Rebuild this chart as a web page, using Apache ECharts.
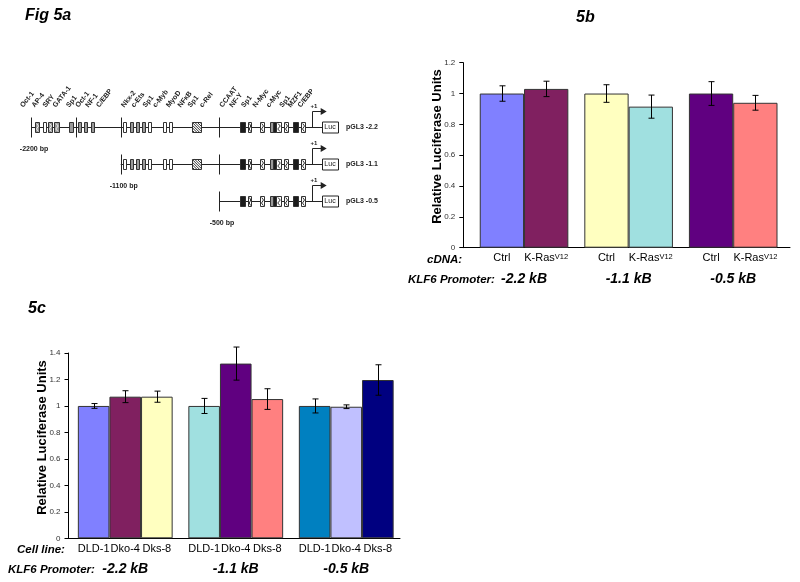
<!DOCTYPE html>
<html><head><meta charset="utf-8">
<script src="https://cdn.jsdelivr.net/npm/echarts@6/dist/echarts.min.js"></script>
<style>html,body{margin:0;padding:0;background:#fff}#c{width:800px;height:582px}</style>
</head><body><div id="c"></div>
<script>
// ===== Fig 5b data =====
const promoters5b = ['-2.2 kB', '-1.1 kB', '-0.5 kB'];
const cdnaNames = ['Ctrl', 'K-Ras'];
const ctrlValues = [1.00, 1.00, 1.00];
const ctrlErrors = [0.05, 0.057, 0.077];
const krasValues = [1.03, 0.915, 0.94];
const krasErrors = [0.05, 0.075, 0.048];

// ===== Fig 5c data =====
const promoters5c = ['-2.2 kB', '-1.1 kB', '-0.5 kB'];
const cellLines = ['DLD-1', 'Dko-4', 'Dks-8'];
const dld1Values = [1.00, 1.00, 1.00];
const dld1Errors = [0.018, 0.057, 0.053];
const dko4Values = [1.07, 1.32, 0.994];
const dko4Errors = [0.045, 0.125, 0.014];
const dks8Values = [1.07, 1.052, 1.196];
const dks8Errors = [0.042, 0.078, 0.115];

// ===== Fig 5a schematic (schematic units along promoter) =====
const constructNames = ['pGL3 -2.2', 'pGL3 -1.1', 'pGL3 -0.5'];
const constructStarts = [0, 89.7, 188];
const startLabels = ['-2200 bp', '-1100 bp', '-500 bp'];
const boundaryTicks = [0, 45, 89.7, 188];
const siteStarts = [4, 12.3, 16.7, 23, 38, 46.7, 53.3, 59.7, 92.3, 99, 104.7, 110.7, 117.3, 132.3, 137.7, 160.7, 209, 217.3, 229, 238.5, 241.5, 244.5, 253.3, 262.3, 270];
const siteEnds   = [8, 15.7, 20.7, 28, 41.7, 50, 56.7, 63, 95.7, 102.3, 108, 114, 120.7, 135.7, 141, 170, 214, 220.7, 233.3, 241.5, 244.5, 249, 257.3, 267.3, 274];
const siteKinds  = ['gs','w','gs','gs','g','g','g','g','w','g','g','g','w','w','w','h','b','ws','ws','g','b','ws','ws','b','ws'];
const tfNames = ['Oct-1','AP-4','SRY','GATA-1','Sp1','Oct-1','NF-1','C/EBP','Nkx-2','c-Ets','Sp1','c-Myb','MyoD','NFκB','Sp1','c-Rel','CCAAT','NF-Y','Sp1','N-Myc','c-Myc','Sp1','MZF1','C/EBP'];
const tfPositions = [-6.5, 5.1, 16.1, 26.1, 39.5, 48.8, 58.8, 69.5, 94.5, 104.5, 116.1, 126.1, 139.5, 151.1, 161.1, 172.8, 192.8, 202.8, 214.5, 226.1, 239.5, 252.8, 261.1, 271.1];
const tssPosition = 280.7;
const arrowTip = 295.7;
const lucStart = 291;
const lucEnd = 307;

// ===== styles =====
const colors5b = [['#8080FF', '#802060'], ['#FFFFC0', '#A0E0E0'], ['#600080', '#FF8080']];
const colors5c = [['#8080FF', '#802060', '#FFFFC0'], ['#A0E0E0', '#600080', '#FF8080'], ['#0080C0', '#C0C0FF', '#000080']];
const FONT = 'Liberation Sans, Arial, sans-serif';
const BW5B = 44.3, BW5C = 31.6;

function errRender(n, k, bw) {
  return function (params, api) {
    const c = api.value(0), v = api.value(1), e = api.value(2);
    const t = api.coord([c, v + e]), b = api.coord([c, v - e]);
    const x = Math.round(t[0] + (k - (n - 1) / 2) * bw) + 0.5;
    const cap = 3, st = { stroke: '#000', lineWidth: 1 };
    return { type: 'group', children: [
      { type: 'line', shape: { x1: x, y1: t[1], x2: x, y2: b[1] }, style: st },
      { type: 'line', shape: { x1: x - cap, y1: t[1], x2: x + cap, y2: t[1] }, style: st },
      { type: 'line', shape: { x1: x - cap, y1: b[1], x2: x + cap, y2: b[1] }, style: st }
    ] };
  };
}

function barSeries(name, vals, colIdx, colorTable, axis, bw, labelFmt) {
  return {
    type: 'bar', name: name, xAxisIndex: axis, yAxisIndex: axis,
    barWidth: bw, barGap: '0%',
    data: vals.map((v, i) => ({ value: v, itemStyle: { color: colorTable[i][colIdx] } })),
    itemStyle: { borderColor: '#333', borderWidth: 1 },
    label: { show: true, position: 'bottom', distance: 5, formatter: labelFmt,
      fontFamily: FONT, fontSize: 11, color: '#000',
      rich: { sup: { fontFamily: FONT, fontSize: 7.5, color: '#000', verticalAlign: 'top', padding: [0, 0, 0, 0] } } },
    emphasis: { disabled: true }, z: 2
  };
}
function errSeries(vals, errs, n, k, axis, bw) {
  return { type: 'custom', xAxisIndex: axis, yAxisIndex: axis,
    data: vals.map((v, i) => [i, v, errs[i]]), encode: { x: 0, y: 1 },
    renderItem: errRender(n, k, bw), z: 5, silent: true, clip: false };
}

// ---- schematic series ----
const siteItems = [];
constructStarts.forEach((s, r) => {
  siteStarts.forEach((x0, i) => { if (x0 >= s) siteItems.push({ x0: x0, x1: siteEnds[i], r: r, k: siteKinds[i] }); });
});

function siteRender(params, api) {
  const it = siteItems[params.dataIndex];
  const a = api.coord([it.x0, it.r]), b = api.coord([it.x1, it.r]);
  const x = Math.round(a[0]) + 0.5, w = Math.max(2, Math.round(b[0] - a[0])), h = 10, y = Math.round(a[1] - h / 2) + 0.5;
  const fill = { g: '#9a9a9a', gs: '#9a9a9a', w: '#fff', ws: '#fff', b: '#1c1c1c', h: '#fff' }[it.k];
  const ch = [{ type: 'rect', shape: { x: x, y: y, width: w, height: h }, style: { fill: fill, stroke: '#333', lineWidth: 1 } }];
  if (it.k === 'gs' || it.k === 'ws') {
    ch.push({ type: 'polyline', shape: { points: [[x + w * 0.3, y + 1], [x + w * 0.75, y + h * 0.35], [x + w * 0.25, y + h * 0.65], [x + w * 0.7, y + h - 1]] },
      style: { stroke: it.k === 'gs' ? '#eee' : '#333', lineWidth: 1, fill: null } });
  }
  if (it.k === 'h') {
    for (let c = 2; c < w + h; c += 2.6) {
      const u1 = Math.max(0, c - h), v1 = c - u1;
      const u2 = Math.min(c, w), v2 = c - u2;
      ch.push({ type: 'line', shape: { x1: x + u1, y1: y + h - v1, x2: x + u2, y2: y + h - v2 }, style: { stroke: '#333', lineWidth: 1 } });
    }
  }
  return { type: 'group', children: ch };
}

function rowRender(params, api) {
  const r = params.dataIndex, s = api.value(0);
  const p0 = api.coord([s, r]);
  const y = Math.round(p0[1]) + 0.5;
  const xt = api.coord([tssPosition, r])[0], xa = api.coord([arrowTip, r])[0];
  const l0 = api.coord([lucStart, r])[0], l1 = api.coord([lucEnd, r])[0];
  const st = { stroke: '#222', lineWidth: 1 };
  const ch = [
    { type: 'line', shape: { x1: p0[0], y1: y, x2: l0, y2: y }, style: st }
  ];
  boundaryTicks.forEach(t => {
    if (t >= s) { const xx = Math.round(api.coord([t, r])[0]) + 0.5;
      ch.push({ type: 'line', shape: { x1: xx, y1: y - 10, x2: xx, y2: y + 10 }, style: st }); }
  });
  const xtt = Math.round(xt) + 0.5, ya = y - 16;
  ch.push({ type: 'polyline', shape: { points: [[xtt, y], [xtt, ya], [xa - 5, ya]] }, style: { stroke: '#222', lineWidth: 1, fill: null } });
  ch.push({ type: 'polygon', shape: { points: [[xa - 6, ya - 3.5], [xa, ya], [xa - 6, ya + 3.5]] }, style: { fill: '#222' } });
  ch.push({ type: 'text', x: xtt - 2, y: ya - 5, style: { text: '+1', font: 'bold 6px ' + FONT, fill: '#222', align: 'left', verticalAlign: 'middle' } });
  ch.push({ type: 'rect', shape: { x: Math.round(l0) + 0.5, y: y - 5.5, width: Math.round(l1 - l0), height: 11 }, style: { fill: '#fff', stroke: '#222', lineWidth: 1 } });
  ch.push({ type: 'text', x: (l0 + l1) / 2, y: y, style: { text: 'Luc', font: '7px ' + FONT, fill: '#222', align: 'center', verticalAlign: 'middle' } });
  ch.push({ type: 'text', x: l1 + 8, y: y, style: { text: constructNames[r], font: 'bold 7px ' + FONT, fill: '#222', align: 'left', verticalAlign: 'middle' } });
  ch.push({ type: 'text', x: p0[0] + 3, y: y + 22, style: { text: startLabels[r], font: 'bold 7px ' + FONT, fill: '#222', align: 'center', verticalAlign: 'middle' } });
  return { type: 'group', children: ch };
}

function tfRender(params, api) {
  const p = api.coord([api.value(0), api.value(1)]);
  return { type: 'text', x: p[0], y: p[1], rotation: 52 * Math.PI / 180,
    style: { text: tfNames[params.dataIndex], font: 'bold 7px ' + FONT, fill: '#222', align: 'left', verticalAlign: 'bottom' } };
}

const hiddenVal = (g, min, max, inv) => ({ type: 'value', gridIndex: g, min: min, max: max, inverse: !!inv, show: false });
const lineOnlyX = g => ({ type: 'value', gridIndex: g, min: 0, max: 1, axisLine: { show: true, onZero: false, lineStyle: { color: '#000', width: 1 } }, axisTick: { show: false }, axisLabel: { show: false }, splitLine: { show: false } });
const dataX = (g, cats) => ({ type: 'category', gridIndex: g, data: cats, axisLine: { show: false }, axisTick: { show: false },
  axisLabel: { margin: 24, fontFamily: FONT, fontSize: 14, fontWeight: 'bold', fontStyle: 'italic', color: '#000' } });
const visY = (g, max) => ({ type: 'value', gridIndex: g, min: 0, max: max, interval: 0.2,
  axisLine: { show: true, lineStyle: { color: '#000', width: 1 } }, axisTick: { show: true, inside: false, length: 4, lineStyle: { color: '#000' } },
  axisLabel: { fontFamily: FONT, fontSize: 8, color: '#333', margin: 8 }, splitLine: { show: false } });

const option = {
  animation: false,
  backgroundColor: '#fff',
  grid: [
    { left: 31, top: 16.3, width: 320, height: 222 },
    { left: 463.3, top: 62.7, width: 326.7, height: 185 },
    { left: 471.75, top: 62.7, width: 313.75, height: 185 },
    { left: 68.5, top: 353, width: 331.5, height: 185.3 },
    { left: 70, top: 353, width: 331.5, height: 185.3 }
  ],
  xAxis: [
    hiddenVal(0, 0, 320),
    lineOnlyX(1),
    dataX(2, promoters5b),
    lineOnlyX(3),
    dataX(4, promoters5c)
  ],
  yAxis: [
    hiddenVal(0, -3, 3, true),
    visY(1, 1.2),
    hiddenVal(2, 0, 1.2),
    visY(3, 1.4),
    hiddenVal(4, 0, 1.4)
  ],
  graphic: [
    { type: 'text', left: 25, top: 8, style: { text: 'Fig 5a', font: 'italic bold 16px ' + FONT, fill: '#000' } },
    { type: 'text', left: 576, top: 10, style: { text: '5b', font: 'italic bold 16px ' + FONT, fill: '#000' } },
    { type: 'text', left: 28, top: 301, style: { text: '5c', font: 'italic bold 16px ' + FONT, fill: '#000' } },
    { type: 'text', x: 437.5, y: 146.5, rotation: Math.PI / 2, style: { text: 'Relative Luciferase Units', font: 'bold 13px ' + FONT, fill: '#000', align: 'center', verticalAlign: 'middle' } },
    { type: 'text', x: 42, y: 437.5, rotation: Math.PI / 2, style: { text: 'Relative Luciferase Units', font: 'bold 13px ' + FONT, fill: '#000', align: 'center', verticalAlign: 'middle' } },
    { type: 'text', x: 427, y: 259.5, style: { text: 'cDNA:', font: 'italic bold 11.5px ' + FONT, fill: '#000', align: 'left', verticalAlign: 'middle' } },
    { type: 'text', x: 408, y: 279.5, style: { text: 'KLF6 Promoter:', font: 'italic bold 11.5px ' + FONT, fill: '#000', align: 'left', verticalAlign: 'middle' } },
    { type: 'text', x: 17, y: 549.5, style: { text: 'Cell line:', font: 'italic bold 11.5px ' + FONT, fill: '#000', align: 'left', verticalAlign: 'middle' } },
    { type: 'text', x: 8, y: 569.5, style: { text: 'KLF6 Promoter:', font: 'italic bold 11.5px ' + FONT, fill: '#000', align: 'left', verticalAlign: 'middle' } }
  ],
  series: [
    // schematic
    { type: 'custom', xAxisIndex: 0, yAxisIndex: 0, data: constructStarts.map((s, r) => [s, r]), renderItem: rowRender, clip: false, silent: true, z: 1 },
    { type: 'custom', xAxisIndex: 0, yAxisIndex: 0, data: siteItems.map(it => [it.x0, it.r, it.x1]), encode: { x: 0, y: 1 }, renderItem: siteRender, clip: false, silent: true, z: 3 },
    { type: 'custom', xAxisIndex: 0, yAxisIndex: 0, data: tfPositions.map(p => [p, -0.5]), renderItem: tfRender, clip: false, silent: true, z: 3 },
    // 5b
    barSeries('Ctrl', ctrlValues, 0, colors5b, 2, BW5B, () => cdnaNames[0]),
    barSeries('K-Ras', krasValues, 1, colors5b, 2, BW5B, () => cdnaNames[1] + '{sup|V12}'),
    errSeries(ctrlValues, ctrlErrors, 2, 0, 2, BW5B),
    errSeries(krasValues, krasErrors, 2, 1, 2, BW5B),
    // 5c
    barSeries('DLD-1', dld1Values, 0, colors5c, 4, BW5C, () => cellLines[0]),
    barSeries('Dko-4', dko4Values, 1, colors5c, 4, BW5C, () => cellLines[1]),
    barSeries('Dks-8', dks8Values, 2, colors5c, 4, BW5C, () => cellLines[2]),
    errSeries(dld1Values, dld1Errors, 3, 0, 4, BW5C),
    errSeries(dko4Values, dko4Errors, 3, 1, 4, BW5C),
    errSeries(dks8Values, dks8Errors, 3, 2, 4, BW5C)
  ]
};
const chart = echarts.init(document.getElementById('c'), null, { renderer: 'canvas' });
chart.setOption(option);
</script>
</body></html>
